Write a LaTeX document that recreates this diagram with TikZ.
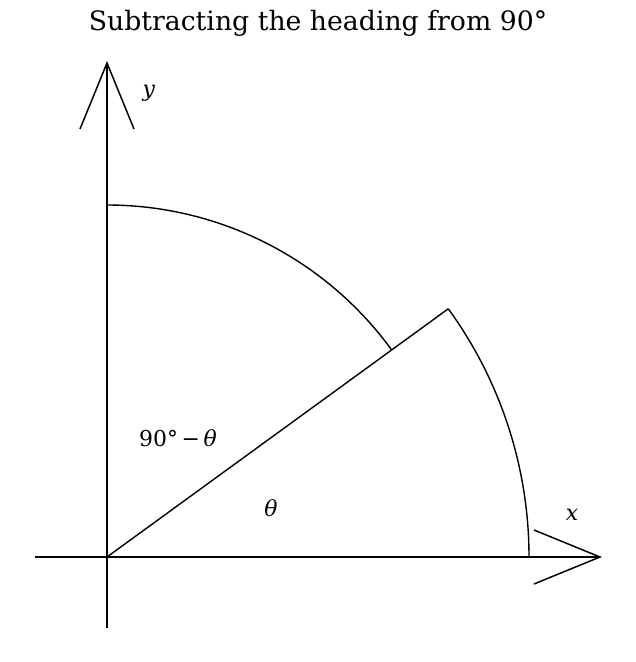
\documentclass[tikz,border=0pt]{standalone}
\usepackage{fontspec}
\setmainfont{DejaVu Serif}
\usetikzlibrary{calc}
\tikzset{
  axisline/.style={black,line width=1.5bp},
  angleline/.style={black,line width=1.4bp},
  lab/.style={font=\fontsize{22}{26}\selectfont,inner sep=0pt}
}
\begin{document}
\begin{tikzpicture}[x=1bp,y=1bp]
        \useasboundingbox (-107,-105) rectangle (529,557);

        % axes
        \coordinate (O) at (0,0);
        \coordinate (xtip) at (493,0);
        \coordinate (ytip) at (0,494);
        \draw[axisline] (-72,0) -- (xtip);
        \draw[axisline] (0,-71) -- (ytip);
        \draw[axisline] (427,27) -- (xtip) -- (427,-27);
        \draw[axisline] (-27,428) -- (ytip) -- (27,428);
        \node[lab] (xlab) at (465,42) {\textit{x}};
        \node[lab] (ylab) at (42,464) {\textit{y}};

        % heading and arcs
        \coordinate (H) at (36.03:422);
        \draw[angleline] (O) -- (H);
        \draw[angleline] (0,352) arc[start angle=90,end angle=36.03,radius=352];
        \draw[angleline] (H) arc[start angle=36.03,end angle=0,radius=422];

        \node[lab] (comp) at (71,119) {90°\,−\,\textit{θ}};
        \node[lab] (theta) at (164,49) {\textit{θ}};

        \node[font=\fontsize{26.8}{32}\selectfont,inner sep=0pt] (title)
          at (211,534) {Subtracting the heading from 90°};
      \end{tikzpicture}
\end{document}
